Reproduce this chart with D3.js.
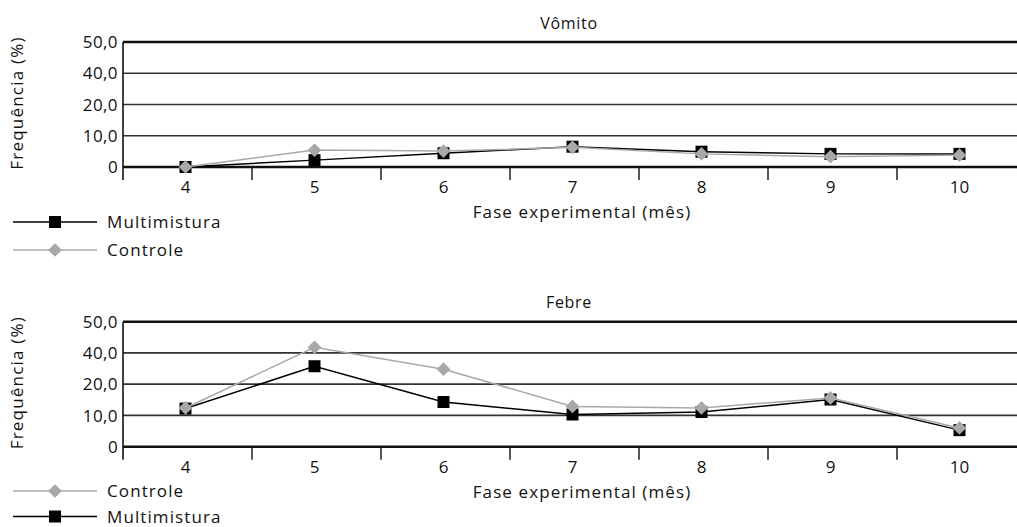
<!DOCTYPE html>
<html>
<head>
<meta charset="utf-8">
<script src="https://cdn.jsdelivr.net/npm/d3@7"></script>
<style>
  body { margin: 0; background: #fff; }
  text { font-family: "Open Sans", sans-serif; fill: #111; }
</style>
</head>
<body>
<svg id="chart" width="1017" height="527"></svg>
<script>
// months of the experiment
let meses = ["4", "5", "6", "7", "8", "9", "10"];

// y ticks as printed on the original (unequal steps, equal spacing)
let yTicks = [0, 10, 20, 40, 50];
let yTickLabels = ["0", "10,0", "20,0", "40,0", "50,0"];

// Vômito
let vomitoMulti = [0, 2.2, 4.4, 6.5, 4.9, 4.2, 4.2];
let vomitoControle = [0, 5.4, 5.1, 6.3, 4.2, 3.3, 3.8];

// Febre
let febreMulti = [12.2, 31.5, 14.3, 10.3, 11.1, 15.1, 5.3];
let febreControle = [12.4, 41.8, 29.6, 12.9, 12.4, 15.6, 6.0];

const svg = d3.select("#chart");
const left = 123, right = 1026;

const x = d3.scaleBand().domain(meses).range([left, right]);

const black = "#000", gray = "#a8a8a8";

// draws one panel
function drawPanel(top, title, multi, controle, legendOrder, legendY, legendGap) {
  const base = top + 125;
  const y = d3.scaleLinear()
    .domain(yTicks)
    .range(yTicks.map((d, i) => base - i * (125 / 4)));

  const g = svg.append("g");

  // grid lines
  g.selectAll(".grid")
    .data(yTicks)
    .enter()
    .append("line")
    .attr("x1", left).attr("x2", 1017)
    .attr("y1", (d) => y(d)).attr("y2", (d) => y(d))
    .attr("stroke", (d, i) => (i === 0 || i === yTicks.length - 1 ? "#111" : "#333"))
    .attr("stroke-width", (d, i) => (i === 0 || i === yTicks.length - 1 ? 2.4 : 1.7));

  // y axis line
  g.append("line")
    .attr("x1", left).attr("x2", left)
    .attr("y1", y(50)).attr("y2", base + 13)
    .attr("stroke", "#111").attr("stroke-width", 1.6);

  // y tick labels
  g.selectAll(".ylab")
    .data(yTicks)
    .enter()
    .append("text")
    .attr("x", 118)
    .attr("y", (d) => y(d))
    .attr("dy", "0.36em")
    .attr("text-anchor", "end")
    .attr("font-size", 17)
    .attr("letter-spacing", 0.4)
    .text((d, i) => yTickLabels[i]);

  // x ticks between months
  g.selectAll(".xtick")
    .data(meses.slice(1))
    .enter()
    .append("line")
    .attr("x1", (d) => x(d)).attr("x2", (d) => x(d))
    .attr("y1", base).attr("y2", base + 13)
    .attr("stroke", "#111").attr("stroke-width", 1.4);

  g.selectAll(".xlab")
    .data(meses)
    .enter()
    .append("text")
    .attr("x", (d) => x(d) + x.bandwidth() / 2 - 2)
    .attr("y", base + 20)
    .attr("dy", "0.36em")
    .attr("text-anchor", "middle")
    .attr("font-size", 17)
    .text((d) => d);

  // titles
  g.append("text")
    .attr("x", 569).attr("y", top - 19)
    .attr("dy", "0.36em")
    .attr("text-anchor", "middle")
    .attr("font-size", 16)
    .attr("letter-spacing", 0.7)
    .text(title);

  g.append("text")
    .attr("x", 582).attr("y", base + 45)
    .attr("dy", "0.36em")
    .attr("text-anchor", "middle")
    .attr("font-size", 17)
    .attr("letter-spacing", 1.1)
    .text("Fase experimental (mês)");

  g.append("text")
    .attr("transform", "translate(17," + (top + 61) + ") rotate(-90)")
    .attr("dy", "0.36em")
    .attr("text-anchor", "middle")
    .attr("font-size", 17)
    .attr("letter-spacing", 1.2)
    .text("Frequência (%)");

  const cx = (i) => x(meses[i]) + x.bandwidth() / 2 - 2;
  const line = d3.line().x((d, i) => cx(i)).y((d) => y(d));

  // Multimistura
  g.append("path")
    .datum(multi)
    .attr("d", line)
    .attr("fill", "none")
    .attr("stroke", black)
    .attr("stroke-width", 1.5);
  g.selectAll(".sq")
    .data(multi)
    .enter()
    .append("rect")
    .attr("x", (d, i) => cx(i) - 6)
    .attr("y", (d) => y(d) - 6)
    .attr("width", 12).attr("height", 12)
    .attr("fill", black);

  // Controle
  g.append("path")
    .datum(controle)
    .attr("d", line)
    .attr("fill", "none")
    .attr("stroke", gray)
    .attr("stroke-width", 1.5);
  g.selectAll(".dia")
    .data(controle)
    .enter()
    .append("path")
    .attr("d", d3.symbol(d3.symbolDiamond2, 120))
    .attr("transform", (d, i) => "translate(" + cx(i) + "," + y(d) + ")")
    .attr("fill", gray);

  // legend
  legendOrder.forEach((name, k) => {
    const ly = legendY + k * legendGap;
    const c = name === "Multimistura" ? black : gray;
    g.append("line")
      .attr("x1", 13).attr("x2", 97)
      .attr("y1", ly).attr("y2", ly)
      .attr("stroke", c).attr("stroke-width", 1.5);
    if (name === "Multimistura") {
      g.append("rect")
        .attr("x", 49).attr("y", ly - 6)
        .attr("width", 12).attr("height", 12)
        .attr("fill", black);
    } else {
      g.append("path")
        .attr("d", d3.symbol(d3.symbolDiamond2, 120))
        .attr("transform", "translate(55," + ly + ")")
        .attr("fill", gray);
    }
    g.append("text")
      .attr("x", 107).attr("y", ly)
      .attr("dy", "0.36em")
      .attr("font-size", 17)
      .attr("letter-spacing", 1.1)
      .text(name);
  });
}

drawPanel(42, "Vômito", vomitoMulti, vomitoControle, ["Multimistura", "Controle"], 222, 28);
drawPanel(321.7, "Febre", febreMulti, febreControle, ["Controle", "Multimistura"], 491, 25.5);
</script>
</body>
</html>
